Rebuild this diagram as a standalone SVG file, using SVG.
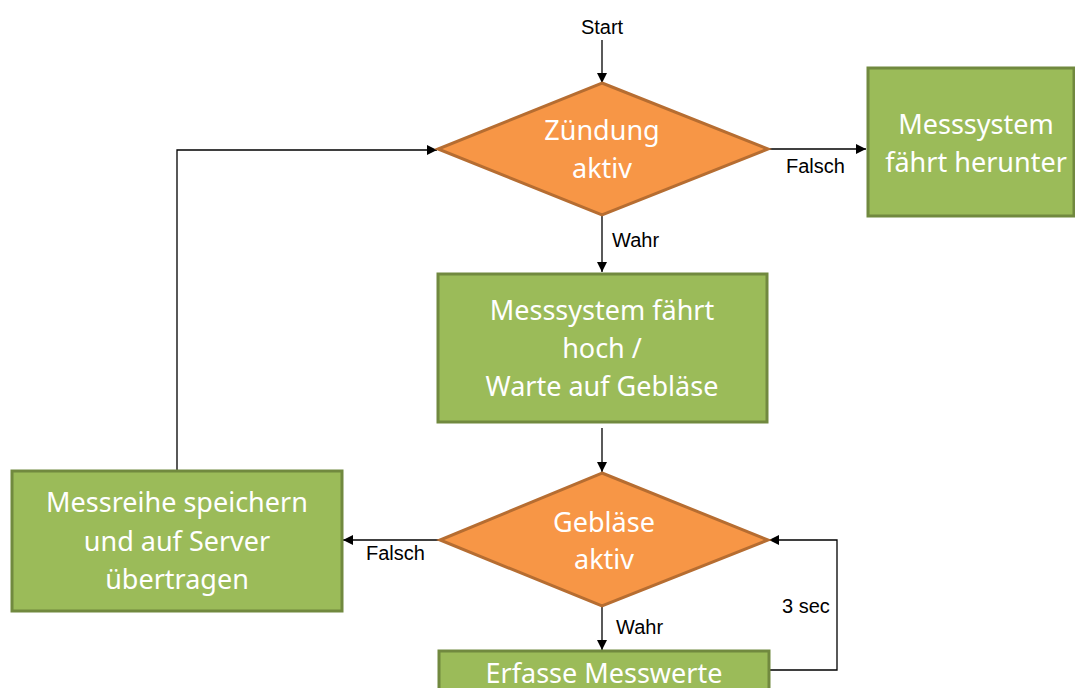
<svg xmlns="http://www.w3.org/2000/svg" width="1075" height="688" viewBox="0 0 1075 688">
<defs>
<marker id="arr" viewBox="0 0 10 10" refX="10" refY="5" markerWidth="10" markerHeight="10" markerUnits="userSpaceOnUse" orient="auto">
<path d="M0,0 L10,5 L0,10 z" fill="#000"/>
</marker>
</defs>
<style>
.box{fill:#9BBB59;stroke:#71893F;stroke-width:3}
.dia{fill:#F79646;stroke:#B66D31;stroke-width:3}
.t{font-family:"Noto Sans","Open Sans",sans-serif;font-size:27px;fill:#fff;text-anchor:middle}
.l{font-family:"Liberation Sans",Arial,sans-serif;font-size:20px;fill:#000}
.c{fill:none;stroke:#000;stroke-width:1.3;marker-end:url(#arr)}
</style>
<rect width="1075" height="688" fill="#fff"/>
<g id="connectors">
<path class="c" d="M602,40 V83"/>
<path class="c" d="M767,149 H866"/>
<path class="c" d="M602,216 V272"/>
<path class="c" d="M602,428 V472"/>
<path class="c" d="M440,540 H343"/>
<path class="c" d="M602,607 V650"/>
<path class="c" d="M769,670 H837 V540 H769"/>
<path class="c" d="M177,470 V150 H437"/>
<text class="l" x="602" y="34" text-anchor="middle">Start</text>
<text class="l" x="786" y="173">Falsch</text>
<text class="l" x="612" y="247">Wahr</text>
<text class="l" x="366" y="560">Falsch</text>
<text class="l" x="616" y="634">Wahr</text>
<text class="l" x="782" y="613">3 sec</text>
</g>
<g id="zuendung">
<polygon class="dia" points="602,83 768,149 602,215 438,149"/>
<text class="t" x="602" y="140">Zündung</text>
<text class="t" x="602" y="178">aktiv</text>
</g>
<g id="herunter">
<rect class="box" x="868" y="68" width="206" height="148"/>
<text class="t" x="976" y="134">Messsystem</text>
<text class="t" x="976" y="172">fährt herunter</text>
</g>
<g id="hoch">
<rect class="box" x="438" y="274" width="329" height="148"/>
<text class="t" x="602" y="320">Messsystem fährt</text>
<text class="t" x="602" y="358">hoch /</text>
<text class="t" x="602" y="396">Warte auf Gebläse</text>
</g>
<g id="geblaese">
<polygon class="dia" points="602,473 768,540 602,606 440,540"/>
<text class="t" x="604" y="532">Gebläse</text>
<text class="t" x="604" y="569">aktiv</text>
</g>
<g id="speichern">
<rect class="box" x="12" y="471" width="330" height="140"/>
<text class="t" x="177" y="512">Messreihe speichern</text>
<text class="t" x="177" y="551">und auf Server</text>
<text class="t" x="177" y="589">übertragen</text>
</g>
<g id="erfasse">
<rect class="box" x="439" y="651" width="330" height="60"/>
<text class="t" x="604" y="683">Erfasse Messwerte</text>
</g>
</svg>
